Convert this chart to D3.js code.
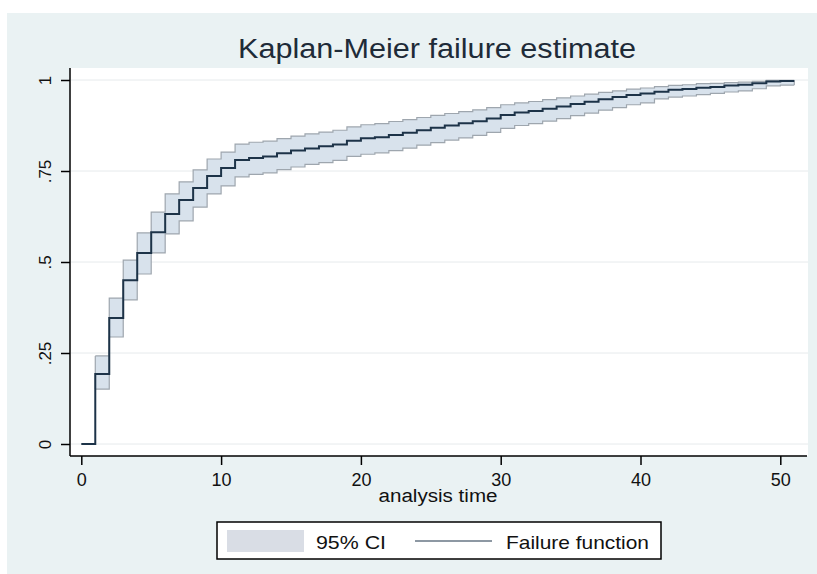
<!DOCTYPE html>
<html>
<head>
<meta charset="utf-8">
<script src="https://cdn.jsdelivr.net/npm/d3@7"></script>
<style>
html,body{margin:0;padding:0;background:#fff;}
svg{display:block;}
text{font-family:"Liberation Sans", Arial, sans-serif;}
</style>
</head>
<body>
<svg id="chart" width="817" height="574"></svg>
<script>
// ---- data ----
const times = [0,1,2,3,4,5,6,7,8,9,10,11,12,13,14,15,16,17,18,19,20,21,22,23,24,25,26,27,28,29,30,31,32,33,34,35,36,37,38,39,40,41,42,43,44,45,46,47,48,49,50];
const endTime = 51;
const failure = [0,0.192,0.346,0.450,0.525,0.582,0.632,0.670,0.703,0.736,0.758,0.780,0.786,0.790,0.799,0.806,0.812,0.818,0.823,0.833,0.840,0.843,0.849,0.855,0.862,0.869,0.875,0.881,0.887,0.894,0.904,0.911,0.915,0.921,0.927,0.934,0.940,0.947,0.953,0.959,0.963,0.968,0.973,0.975,0.979,0.981,0.985,0.987,0.991,0.996,0.997];
const upper = [null,0.242,0.401,0.505,0.580,0.637,0.687,0.720,0.753,0.783,0.802,0.824,0.829,0.832,0.839,0.846,0.852,0.857,0.862,0.871,0.877,0.880,0.886,0.891,0.897,0.903,0.908,0.913,0.918,0.924,0.932,0.937,0.941,0.946,0.951,0.956,0.961,0.966,0.970,0.975,0.978,0.982,0.985,0.987,0.990,0.991,0.993,0.994,0.996,0.999,0.999];
const lower = [null,0.151,0.294,0.396,0.467,0.525,0.577,0.613,0.651,0.687,0.709,0.734,0.741,0.745,0.754,0.761,0.768,0.773,0.779,0.790,0.796,0.800,0.806,0.813,0.821,0.828,0.835,0.841,0.848,0.856,0.867,0.875,0.880,0.887,0.894,0.902,0.909,0.917,0.924,0.932,0.937,0.948,0.953,0.956,0.960,0.963,0.967,0.970,0.976,0.984,0.986];
const xTicks = [0,10,20,30,40,50];
const yTicks = [0,0.25,0.5,0.75,1];
const yTickLabels = ["0",".25",".5",".75","1"];
const titleText = "Kaplan-Meier failure estimate";
const xTitle = "analysis time";
const legendLabels = ["95% CI","Failure function"];

// ---- layout ----
const svg = d3.select("#chart");
const plot = {left:70, right:808, top:68, bottom:456};
const x = d3.scaleLinear().domain([0,50]).range([81.3,780.3]);
const y = d3.scaleLinear().domain([0,1]).range([444,80]);

// graph region background
svg.append("rect").attr("x",7).attr("y",13).attr("width",810).attr("height",561).attr("fill","#eaf2f3");
// plot region
svg.append("rect").attr("x",plot.left).attr("y",plot.top).attr("width",plot.right-plot.left).attr("height",plot.bottom-plot.top).attr("fill","#ffffff");

// gridlines
svg.append("g").selectAll("line").data(yTicks).join("line")
  .attr("x1",plot.left+1).attr("x2",plot.right)
  .attr("y1",d=>y(d)).attr("y2",d=>y(d))
  .attr("stroke","#e6eaec").attr("stroke-width",1);

// data rows
const rows = times.map((t,i)=>({t, f:failure[i], lo:lower[i], hi:upper[i]}));
const lastRow = rows[rows.length-1];
const lineRows = rows.concat([{t:endTime, f:lastRow.f, lo:lastRow.lo, hi:lastRow.hi}]);
const bandRows = lineRows.filter(d=>d.lo!==null);

// CI band
const area = d3.area().curve(d3.curveStepAfter).x(d=>x(d.t)).y0(d=>y(d.lo)).y1(d=>y(d.hi));
svg.append("path").datum(bandRows).attr("d",area).attr("fill","#d8e2ec").attr("stroke","none");
const hiLine = d3.line().curve(d3.curveStepAfter).x(d=>x(d.t)).y(d=>y(d.hi));
const loLine = d3.line().curve(d3.curveStepAfter).x(d=>x(d.t)).y(d=>y(d.lo));
const bandPath = d3.line().curve(d3.curveStepAfter).x(d=>x(d.t));
svg.append("path").datum(bandRows).attr("d",hiLine).attr("fill","none").attr("stroke","#9ea6ae").attr("stroke-width",1.2);
svg.append("path").datum(bandRows).attr("d",loLine).attr("fill","none").attr("stroke","#9ea6ae").attr("stroke-width",1.2);
// band vertical edges
const first = bandRows[0], lastB = bandRows[bandRows.length-1];
svg.append("line").attr("x1",x(first.t)).attr("x2",x(first.t)).attr("y1",y(first.lo)).attr("y2",y(first.hi)).attr("stroke","#9ea6ae").attr("stroke-width",1.2);
svg.append("line").attr("x1",x(lastB.t)).attr("x2",x(lastB.t)).attr("y1",y(lastB.lo)).attr("y2",y(lastB.hi)).attr("stroke","#9ea6ae").attr("stroke-width",1.2);

// failure function
const fLine = d3.line().curve(d3.curveStepAfter).x(d=>x(d.t)).y(d=>y(d.f));
svg.append("path").datum(lineRows).attr("d",fLine).attr("fill","none").attr("stroke","#1d3348").attr("stroke-width",2);

// y axis
const yAxis = d3.axisLeft(y).tickValues(yTicks).tickFormat((d,i)=>yTickLabels[i]).tickSize(9).tickPadding(0);
const gy = svg.append("g").attr("transform",`translate(${plot.left},0)`).call(yAxis);
gy.select(".domain").attr("d",`M0,${plot.top}V${plot.bottom}`).attr("stroke","#000").attr("stroke-width",1.5);
gy.selectAll(".tick line").attr("stroke","#000").attr("stroke-width",1.5);
gy.selectAll(".tick text")
  .attr("x",0).attr("y",0).attr("dy",null)
  .attr("transform","translate(-20,0) rotate(-90)")
  .attr("text-anchor","middle").attr("dominant-baseline","auto")
  .attr("font-size",17).attr("fill","#111")
  .style("font-family","'Liberation Sans', Arial, sans-serif");
gy.selectAll(".tick text").attr("transform","translate(-19,0) rotate(-90)").attr("dy","0");

// x axis
const xAxis = d3.axisBottom(x).tickValues(xTicks).tickFormat(d3.format("d")).tickSize(9).tickPadding(8);
const gx = svg.append("g").attr("transform",`translate(0,${plot.bottom})`).call(xAxis);
gx.select(".domain").attr("d",`M${plot.left},0H${plot.right-1}`).attr("stroke","#000").attr("stroke-width",1.5);
gx.selectAll(".tick line").attr("stroke","#000").attr("stroke-width",1.5);
gx.selectAll(".tick text").attr("font-size",18).attr("fill","#111")
  .style("font-family","'Liberation Sans', Arial, sans-serif");

// titles
svg.append("text").attr("x",437).attr("y",58).attr("text-anchor","middle")
  .attr("font-size",27).attr("fill","#1e2b38").attr("textLength",398).attr("lengthAdjust","spacingAndGlyphs")
  .text(titleText);
svg.append("text").attr("x",438).attr("y",502).attr("text-anchor","middle")
  .attr("font-size",18).attr("fill","#111").attr("textLength",119).attr("lengthAdjust","spacingAndGlyphs")
  .text(xTitle);

// legend
const lg = svg.append("g");
lg.append("rect").attr("x",217).attr("y",522).attr("width",444).attr("height",37).attr("fill","#fff").attr("stroke","#000").attr("stroke-width",1.5);
lg.append("rect").attr("x",227).attr("y",530).attr("width",77).attr("height",22).attr("fill","#d9dde5");
lg.append("text").attr("x",316).attr("y",549).attr("font-size",19).attr("fill","#111").attr("textLength",70).attr("lengthAdjust","spacingAndGlyphs").text(legendLabels[0]);
lg.append("line").attr("x1",415).attr("x2",492).attr("y1",541).attr("y2",541).attr("stroke","#1d3348").attr("stroke-width",1.2);
lg.append("text").attr("x",506).attr("y",549).attr("font-size",19).attr("fill","#111").attr("textLength",143).attr("lengthAdjust","spacingAndGlyphs").text(legendLabels[1]);
</script>
</body>
</html>
